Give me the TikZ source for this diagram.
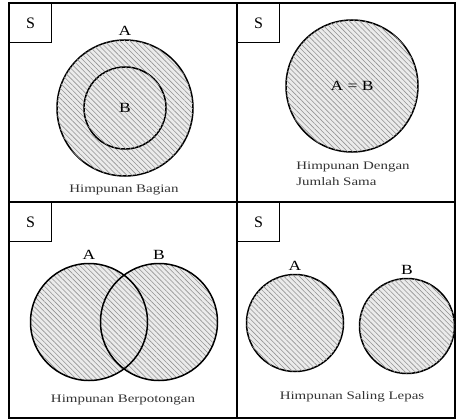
\documentclass[tikz,border=0pt]{standalone}
\usepackage{fontspec}
\setmainfont{Liberation Serif}
\usetikzlibrary{patterns.meta}

\tikzset{
  frame/.style={draw, line width=1.2pt},
  sbox/.style={draw, line width=1.1pt, anchor=north west, minimum width=42pt, minimum height=39pt, inner sep=0pt, font=\fontsize{16}{16}\selectfont},
  himp/.style={circle, inner sep=0pt, fill=gray!16, postaction={pattern={Lines[angle=-45, distance=3.6pt, line width=0.6pt]}, pattern color=gray!85}},
  rim/.style={draw, line width=1.5pt},
  lbl/.style={font=\fontsize{14}{14}\selectfont\addfontfeature{FakeStretch=1.25}},
  ket/.style={font=\fontsize{11.5}{16}\selectfont\addfontfeature{FakeStretch=1.3}, text=black!80},
}

\begin{document}
\begin{tikzpicture}[x=1pt, y=-1pt]
\useasboundingbox (0,0) rectangle (458,420);
% frame
\draw[frame] (9,3) rectangle (455,418);
\draw[frame] (237,3) -- (237,418);
\draw[frame] (9,202) -- (455,202);
\node[sbox] (s1) at (9,3) {S};
\node[sbox] (s2) at (237,3) {S};
\node[sbox] (s3) at (9,202) {S};
\node[sbox] (s4) at (237,202) {S};
%
% himpunan bagian
\node[himp, rim, minimum size=136pt] (a1) at (125,108) {};
\node[himp, rim, minimum size=82pt, lbl] (b1) at (125,108) {B};
\node[lbl, above=0pt] (la1) at (a1.north) {A};
\node[ket] (k1) at (124,190) {Himpunan Bagian};
%
% himpunan dengan jumlah sama
\node[himp, rim, minimum size=132pt, lbl] (ab2) at (352,86) {A = B};
\node[ket, align=left] (k2) at (353,174) {Himpunan Dengan\\Jumlah Sama};
%
% himpunan berpotongan
\node[himp, minimum size=117pt] (a3) at (89,322) {};
\node[himp, minimum size=117pt] (b3) at (159,322) {};
\draw[rim] (a3.center) circle[radius=58.5];
\draw[rim] (b3.center) circle[radius=58.5];
\node[lbl, above=0pt] (la3) at (a3.north) {A};
\node[lbl, above=0pt] (lb3) at (b3.north) {B};
\node[ket] (k3) at (123,400) {Himpunan Berpotongan};
%
% himpunan saling lepas
\node[himp, rim, minimum size=97pt] (a4) at (295,323) {};
\node[himp, rim, minimum size=95pt] (b4) at (407,326) {};
\node[lbl, above=0pt] (la4) at (a4.north) {A};
\node[lbl, above=0pt] (lb4) at (b4.north) {B};
\node[ket] (k4) at (352,397) {Himpunan Saling Lepas};
\end{tikzpicture}
\end{document}
